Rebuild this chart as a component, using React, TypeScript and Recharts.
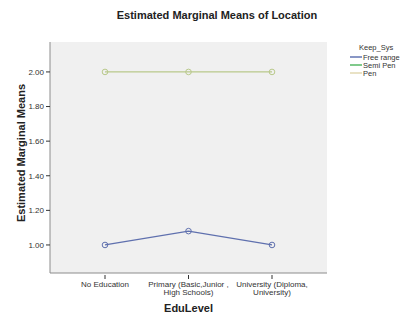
import React from "react";
import { LineChart, Line, XAxis, YAxis, CartesianGrid } from "recharts";

const categories = ["No Education", "Primary (Basic,Junior ,\nHigh Schools)", "University (Diploma,\nUniversity)"];
const freeRange = [1.0, 1.08, 1.0];
const pen = [2.0, 2.0, 2.0];
const yTicks = [1.0, 1.2, 1.4, 1.6, 1.8, 2.0];
const legendTitle = "Keep_Sys";
const legendItems = [
  { name: "Free range", color: "#4a5fa8" },
  { name: "Semi Pen", color: "#3cae4e" },
  { name: "Pen", color: "#ddd2a6" },
];

const data = categories.map((c, i) => ({ cat: c, freeRange: freeRange[i], pen: pen[i] }));

const FONT = "'Liberation Sans', Arial, sans-serif";

const XTick = (props: any) => {
  const { x, y, payload } = props;
  const lines = String(payload.value).split("\n");
  return (
    <g>
      <line x1={x} x2={x} y1={y - 8} y2={y - 4} stroke="#333" />
      <text x={x} y={y + 4} textAnchor="middle" fontSize={8} fill="#333" fontFamily={FONT}>
        {lines.map((l, i) => (
          <tspan key={i} x={x} dy={i === 0 ? 0 : 8}>{l}</tspan>
        ))}
      </text>
    </g>
  );
};

export default function App() {
  return (
    <div style={{ position: "absolute", left: 0, top: 0, width: 404, height: 318, background: "#fff" }}>
      <LineChart width={404} height={318} data={data} margin={{ top: 42, right: 77, bottom: 0, left: 0 }}>
        <CartesianGrid fill="#f0f0f0" horizontal={false} vertical={false} />
        <text x={217} y={19} textAnchor="middle" fontSize={11} fontWeight="bold" fill="#222" fontFamily={FONT}>
          Estimated Marginal Means of Location
        </text>
        <text
          x={21}
          y={153}
          transform="rotate(-90, 21, 153)"
          textAnchor="middle"
          dominantBaseline="central"
          fontSize={11}
          fontWeight="bold"
          fill="#222"
          fontFamily={FONT}
        >
          Estimated Marginal Means
        </text>
        <text x={188.5} y={312} textAnchor="middle" fontSize={11} fontWeight="bold" fill="#222" fontFamily={FONT}>
          EduLevel
        </text>
        <g fontFamily={FONT} fontSize={7.5} fill="#333">
          <text x={359} y={50}>{legendTitle}</text>
          {legendItems.map((it, i) => (
            <g key={it.name}>
              <line x1={350} x2={362} y1={57 + i * 8} y2={57 + i * 8} stroke={it.color} strokeWidth={1.3} />
              <text x={363} y={60 + i * 8}>{it.name}</text>
            </g>
          ))}
        </g>
        <XAxis
          dataKey="cat"
          height={45}
          padding={{ left: 55, right: 55 }}
          axisLine={{ stroke: "#8c8c8c" }}
          tickLine={false}
          tick={<XTick />}
          interval={0}
          tickSize={8}
        />
        <XAxis xAxisId="top" orientation="top" dataKey="cat" height={0} tick={false} tickLine={false} axisLine={{ stroke: "#8c8c8c" }} />
        <YAxis
          width={50}
          domain={[0.838, 2.173]}
          ticks={yTicks}
          tickFormatter={(v: number) => v.toFixed(2)}
          axisLine={{ stroke: "#8c8c8c" }}
          tickLine={{ stroke: "#333" }}
          tickSize={4}
          tick={{ fontSize: 8, fill: "#333", fontFamily: FONT }}
          interval={0}
        />
        <YAxis yAxisId="right" orientation="right" width={0} tick={false} tickLine={false} axisLine={{ stroke: "#8c8c8c" }} />
        <Line
          dataKey="pen"
          stroke="#b9c98b"
          strokeWidth={1.3}
          dot={{ r: 2.8, fill: "none", stroke: "#b9c98b", strokeWidth: 1 }}
          isAnimationActive={false}
        />
        <Line
          dataKey="freeRange"
          stroke="#5f70ae"
          strokeWidth={1.3}
          dot={{ r: 2.8, fill: "none", stroke: "#5f70ae", strokeWidth: 1 }}
          isAnimationActive={false}
        />
      </LineChart>
    </div>
  );
}
